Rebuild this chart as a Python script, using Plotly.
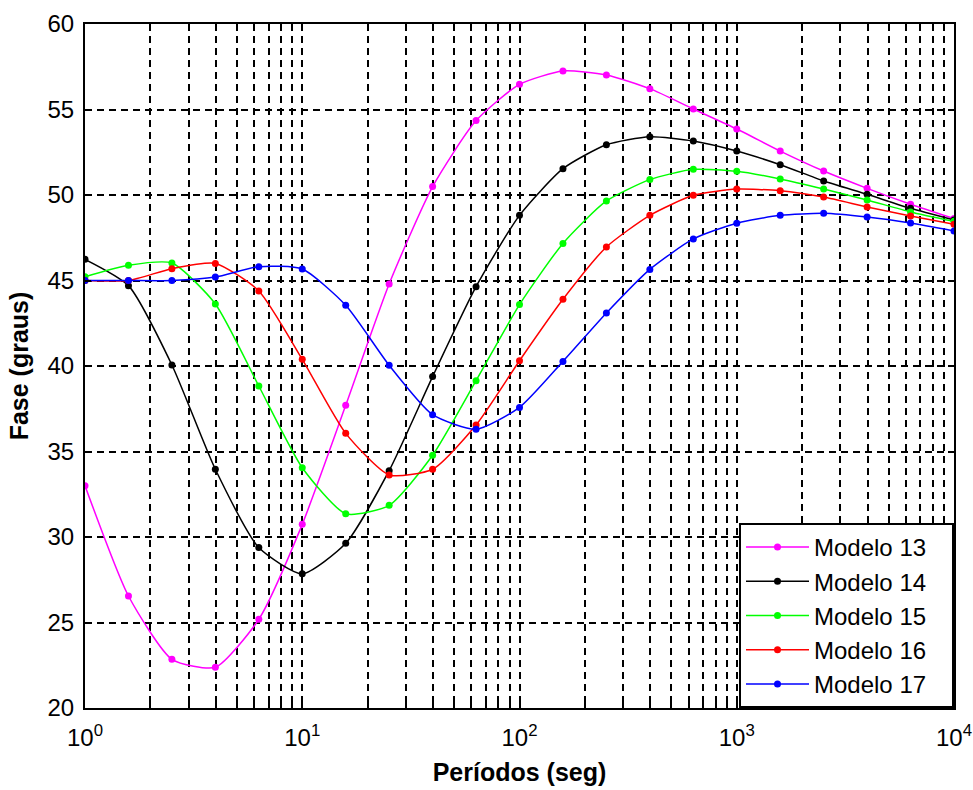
import plotly.graph_objects as go

periods = [1, 1.585, 2.512, 3.981, 6.310, 10, 15.85, 25.12, 39.81, 63.10, 100,
           158.5, 251.2, 398.1, 631.0, 1000, 1585, 2512, 3981, 6310, 10000]

modelo13 = [33.0, 26.55, 22.85, 22.38, 25.19, 30.74, 37.7, 44.8, 50.49, 54.35, 56.47,
            57.25, 57.02, 56.22, 55.03, 53.86, 52.57, 51.4, 50.39, 49.46, 48.62]
modelo14 = [46.24, 44.7, 40.06, 33.96, 29.38, 27.85, 29.63, 33.88, 39.38, 44.64, 48.81,
            51.54, 52.94, 53.41, 53.16, 52.57, 51.77, 50.82, 50.04, 49.22, 48.54]
modelo15 = [45.22, 45.89, 46.02, 43.63, 38.83, 34.05, 31.36, 31.85, 34.78, 39.14, 43.59,
            47.17, 49.65, 50.9, 51.5, 51.39, 50.94, 50.35, 49.71, 49.01, 48.46]
modelo16 = [45.0, 45.0, 45.69, 46.0, 44.39, 40.39, 36.06, 33.63, 33.96, 36.55, 40.31,
            43.9, 46.96, 48.81, 49.98, 50.35, 50.25, 49.88, 49.3, 48.77, 48.29]
modelo17 = [45.0, 45.0, 45.0, 45.2, 45.81, 45.67, 43.55, 40.04, 37.15, 36.3, 37.58,
            40.27, 43.1, 45.65, 47.43, 48.35, 48.81, 48.93, 48.71, 48.36, 47.9]

series_names = ["Modelo 13", "Modelo 14", "Modelo 15", "Modelo 16", "Modelo 17"]
series_values = [modelo13, modelo14, modelo15, modelo16, modelo17]
series_colors = ["#ff00ff", "#000000", "#00ff00", "#ff0000", "#0000ff"]

x_major = [1, 10, 100, 1000, 10000]
x_major_text = ["10<sup>0</sup>", "10<sup>1</sup>", "10<sup>2</sup>", "10<sup>3</sup>", "10<sup>4</sup>"]
x_minor = [m * d for d in [1, 10, 100, 1000] for m in range(2, 10)]
y_ticks = [20, 25, 30, 35, 40, 45, 50, 55, 60]

fig = go.Figure()
for name, vals, col in zip(series_names, series_values, series_colors):
    fig.add_trace(go.Scatter(
        x=periods, y=vals, name=name + "\u00a0\u00a0\u00a0", mode="lines+markers",
        line=dict(color=col, width=1.5, shape="spline", smoothing=0.6),
        marker=dict(color=col, size=7, symbol="circle"),
    ))

FONT = "Liberation Sans, Arial, sans-serif"
griddash = "7px,5px"

fig.update_layout(
    width=973, height=790,
    margin=dict(l=85, r=19, t=24, b=82),
    paper_bgcolor="white", plot_bgcolor="white",
    font=dict(family=FONT, size=24, color="black"),
    showlegend=True,
    legend=dict(
        x=1, y=0, xanchor="right", yanchor="bottom",
        bgcolor="white", bordercolor="black", borderwidth=2,
        font=dict(family=FONT, size=24, color="black"),
        tracegroupgap=0, itemwidth=63,
    ),
    xaxis=dict(
        type="log", range=[0, 4], automargin=False,
        tickmode="array", tickvals=x_major, ticktext=x_major_text,
        showline=True, linecolor="black", linewidth=2, mirror="allticks",
        ticks="inside", ticklen=6, tickcolor="black", tickwidth=1.5,
        ticklabelstandoff=7,
        showgrid=True, gridcolor="black", gridwidth=1.5, griddash=griddash,
        zeroline=False,
        tickfont=dict(family=FONT, size=24, color="black"),
        title=dict(text="<b>Períodos (seg)</b>", font=dict(family=FONT, size=25, color="black"), standoff=14),
        minor=dict(tickvals=x_minor, ticks="inside", ticklen=5, tickcolor="black",
                   showgrid=True, gridcolor="black", gridwidth=1.5, griddash=griddash),
    ),
    yaxis=dict(
        range=[20, 60], automargin=False,
        tickmode="array", tickvals=y_ticks,
        showline=True, linecolor="black", linewidth=2, mirror="allticks",
        ticks="inside", ticklen=6, tickcolor="black", tickwidth=1.5,
        ticklabelstandoff=4,
        showgrid=True, gridcolor="black", gridwidth=1.5, griddash=griddash,
        zeroline=False,
        tickfont=dict(family=FONT, size=24, color="black"),
        title=dict(text="<b>Fase (graus)</b>", font=dict(family=FONT, size=25, color="black"), standoff=12),
    ),
)

fig.write_html("out.html", config={"displayModeBar": False},
               post_script="document.body.style.margin='0';document.body.style.overflow='hidden';")
